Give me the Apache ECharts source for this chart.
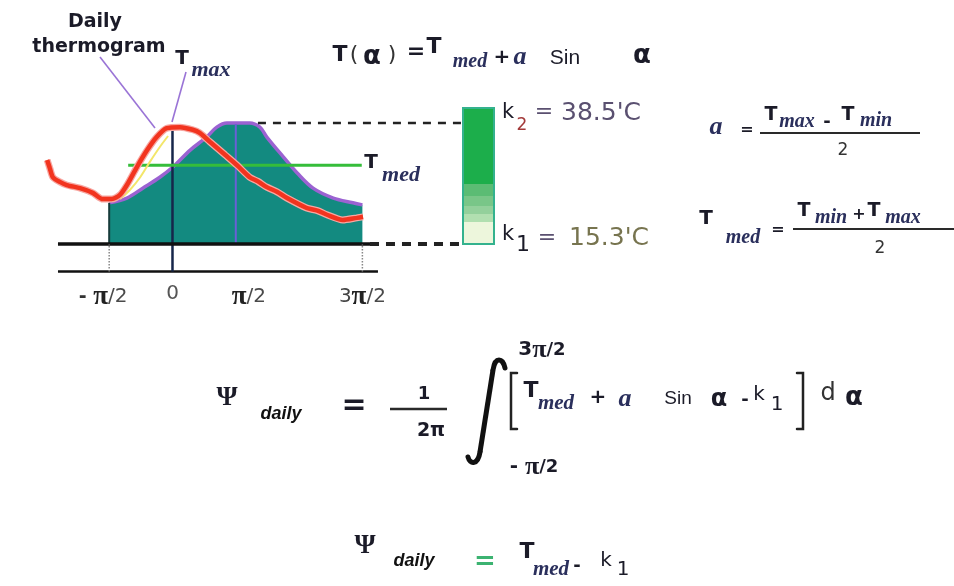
<!DOCTYPE html>
<html>
<head>
<meta charset="utf-8">
<script src="https://cdn.jsdelivr.net/npm/echarts@6/dist/echarts.min.js"></script>
<style>
  html, body { margin: 0; padding: 0; background: #ffffff; }
  #chart { width: 954px; height: 586px; }
</style>
</head>
<body>
<div id="chart"></div>
<script>
// Angle α is measured in units of π/2; temperatures in °C.
const alphaTicks = [-1, 0, 1, 3];
const alphaTickLabels = ['-π/2', '0', 'π/2', '3π/2'];

const k1 = 15.3;
const k2 = 38.5;
const tMed = 30.4;

// Sinusoidal model T(α) bounding the integrated (teal) area
const modelCurve = [
  [-1.00, 23.2], [-0.72, 24.1], [-0.47, 26.0], [-0.20, 28.1], [0.01, 30.1],
  [0.28, 33.3], [0.54, 35.8], [0.70, 37.7], [0.86, 38.5], [1.22, 38.5],
  [1.38, 37.7], [1.49, 35.8], [1.75, 32.0], [1.97, 28.9], [2.22, 26.0],
  [2.54, 24.1], [2.85, 23.2], [3.00, 22.8]
];

// Measured daily thermogram
const thermogram = [
  [-1.98, 31.4], [-1.94, 29.9], [-1.89, 28.1], [-1.78, 27.2], [-1.67, 26.6],
  [-1.46, 26.0], [-1.26, 25.1], [-1.10, 23.9], [-0.96, 23.9], [-0.83, 24.7],
  [-0.72, 26.6], [-0.56, 30.1], [-0.40, 33.3], [-0.25, 35.8], [-0.09, 37.5],
  [0.12, 37.7], [0.32, 37.2], [0.43, 36.6], [0.59, 34.9], [0.83, 32.4],
  [1.02, 30.4], [1.22, 28.1], [1.35, 27.3], [1.49, 26.2], [1.65, 25.3],
  [1.81, 24.1], [2.12, 22.2], [2.29, 21.7], [2.44, 20.9], [2.69, 19.9],
  [2.91, 20.3], [3.01, 20.5]
];

// Pale trace running inside the rising limb of the thermogram
const innerTrace = [
  [-0.83, 23.9], [-0.67, 25.7], [-0.51, 28.1], [-0.36, 31.0], [-0.20, 33.9], [-0.07, 36.0]
];

// Reference lines (α range, temperature)
const tMaxAlpha = 0;
const tMaxValue = 37.7;
const halfPiTop = 38.3;
const modelStart = modelCurve[0];
const medRange = [-0.70, 2.99];
const k2DashFrom = 1.35;
const baselineEnd = 3.12;
const scaleEdge = 4.57;
const axisRange = [-1.809, 3.246];

const X_MIN = -2.093, X_MAX = 4.700;
const Y_MIN = 10, Y_MAX = 43;

function seg(points, color, width, extra) {
  return Object.assign({
    type: 'line', data: points, showSymbol: false, symbol: 'none', clip: false,
    silent: true, animation: false,
    lineStyle: { color: color, width: width, cap: 'butt' }
  }, extra || {});
}

const labelRich = {
  m: { fontFamily: 'DejaVu Sans', fontWeight: 'bold', fontSize: 19, color: '#333' },
  p: { fontFamily: 'Liberation Serif', fontWeight: 'bold', fontSize: 27, color: '#222' },
  d: { fontFamily: 'DejaVu Sans', fontSize: 20, color: '#4a4a4a' },
  n: { fontFamily: 'DejaVu Sans', fontSize: 20, color: '#444' },
  z: { fontFamily: 'DejaVu Sans', fontSize: 20, color: '#555' },
  s: { width: 26 },
  t: { width: 12 }
};

function tickLabel(value) {
  const i = alphaTicks.indexOf(Math.round(value));
  const s = i >= 0 ? alphaTickLabels[i] : '';
  if (s === '0') return '{z|0}';
  const m = s.match(/^(-?)(\d*)π\/(\d)$/);
  if (!m) return s;
  let out = '';
  if (m[1]) out += '{m|- }';
  if (m[2]) out += '{n|' + m[2] + '}';
  out += '{p|π}{d|/' + m[3] + '}';
  if (s === 'π/2') out = '{s|}' + out;
  if (m[1]) out += '{t|}';
  return out;
}

// ---- text helpers for the formulas ----
const SANS = 'DejaVu Sans';
const ARIAL = 'Liberation Sans';
const SERIF = 'Liberation Serif';
const INK = '#1b1b28';
const SUB = '#2a2f5c';

function txt(x, y, s, size, o) {
  o = o || {};
  const style = {
    text: s, fontSize: size, fontFamily: o.family || SANS,
    fontWeight: o.weight || 'normal', fontStyle: o.style || 'normal',
    fill: o.color || INK, align: 'center', verticalAlign: 'middle',
    textAlign: 'center', textVerticalAlign: 'middle'
  };
  if (o.rich) style.rich = o.rich;
  return { type: 'text', x: x, y: y, z: 100, silent: true, style: style };
}
const B = { weight: 'bold' };
const IT = { family: SERIF, weight: 'bold', style: 'italic', color: SUB };
function line(x1, y1, x2, y2, color, w) {
  return { type: 'line', z: 100, silent: true, shape: { x1, y1, x2, y2 }, style: { stroke: color, lineWidth: w } };
}
function poly(points, color, w) {
  return { type: 'polyline', z: 100, silent: true, shape: { points: points },
    style: { stroke: color, lineWidth: w, fill: null, lineCap: 'round' } };
}
function curve(x1, y1, cx1, cy1, cx2, cy2, x2, y2, color, w) {
  return { type: 'bezierCurve', z: 100, silent: true,
    shape: { x1, y1, x2, y2, cpx1: cx1, cpy1: cy1, cpx2: cx2, cpy2: cy2 },
    style: { stroke: color, lineWidth: w, fill: null, lineCap: 'round' } };
}
const limitRich = {
  n: { fontFamily: SANS, fontWeight: 'bold', fontSize: 20, color: '#222' },
  p: { fontFamily: SERIF, fontWeight: 'bold', fontSize: 26, color: '#222' },
  d: { fontFamily: SANS, fontWeight: 'bold', fontSize: 18, color: '#333' }
};

const scaleBands = [
  { y: 109, h: 75, c: '#1cae4b' },
  { y: 184, h: 12, c: '#5bbc74' },
  { y: 196, h: 10, c: '#79c688' },
  { y: 206, h: 8, c: '#93d09b' },
  { y: 214, h: 8, c: '#b1dfb0' },
  { y: 222, h: 21, c: '#edf6dc' }
];

const graphics = [
  // annotations on the plot
  txt(95, 22, 'Daily', 19, B),
  txt(99, 47, 'thermogram', 19, B),
  line(100, 57, 155, 128, '#9a74d6', 1.6),
  line(186, 72, 172, 122, '#9a74d6', 1.6),
  txt(182, 59, 'T', 20, B),
  txt(211, 70, 'max', 22, IT),
  txt(371, 163, 'T', 20, B),
  txt(401, 175, 'med', 22, IT),

  // T(α) = Tmed + a Sin α
  txt(340, 55, 'T', 22, B),
  txt(354, 55, '(', 22, { color: '#333' }),
  txt(372, 57, 'α', 26, B),
  txt(392, 55, ')', 22, { color: '#333' }),
  txt(416, 52, '=', 22, B),
  txt(434, 47, 'T', 22, B),
  txt(470, 62, 'med', 20, IT),
  txt(502, 58, '+', 20, B),
  txt(520, 57, 'a', 26, IT),
  txt(565, 58, 'Sin', 21, { family: ARIAL }),
  txt(642, 56, 'α', 26, B),

  // scale bar labels
  txt(508, 113, 'k', 21),
  txt(522, 126, '2', 17, { color: '#a33a3a' }),
  txt(544, 112, '=', 22, { color: '#5a5070' }),
  txt(601, 113, "38.5'C", 25, { color: '#5a5070' }),
  txt(508, 235, 'k', 21),
  txt(523, 245, '1', 22),
  txt(547, 238, '=', 22, { color: '#5a5070' }),
  txt(609, 238, "15.3'C", 25, { color: '#77744f' }),

  // a = (Tmax - Tmin)/2
  txt(716, 127, 'a', 26, IT),
  txt(747, 130, '=', 16, B),
  txt(771, 115, 'T', 19, B),
  txt(797, 122, 'max', 20, IT),
  txt(827, 122, '-', 18, B),
  txt(848, 115, 'T', 19, B),
  txt(876, 121, 'min', 20, IT),
  line(760, 133, 920, 133, '#2a2a2a', 2),
  txt(843, 151, '2', 17, { color: '#333' }),

  // Tmed = (Tmin + Tmax)/2
  txt(706, 219, 'T', 20, B),
  txt(743, 238, 'med', 20, IT),
  txt(778, 230, '=', 16, B),
  txt(804, 211, 'T', 19, B),
  txt(831, 218, 'min', 20, IT),
  txt(859, 215, '+', 16, B),
  txt(874, 211, 'T', 19, B),
  txt(903, 218, 'max', 20, IT),
  line(793, 229, 954, 229, '#2a2a2a', 2),
  txt(880, 249, '2', 17, { color: '#333' }),

  // Ψdaily = 1/(2π) ∫ [Tmed + a Sin α - k1] dα
  txt(227, 398, 'Ψ', 27, { family: SERIF, weight: 'bold' }),
  txt(281, 414, 'daily', 18, { family: ARIAL, weight: 'bold', style: 'italic', color: '#111' }),
  txt(354, 406, '=', 30, B),
  txt(424, 394, '1', 18, B),
  line(390, 409, 447, 409, '#2a2a2a', 2.5),
  txt(431, 431, '2π', 19, B),
  curve(505, 368, 503, 358, 495, 356, 493, 370, '#111', 5),
  line(493, 370, 480, 452, '#111', 5),
  curve(480, 452, 478, 465, 470, 465, 468, 457, '#111', 5),
  txt(542, 350, '{n|3}{p|π}{d|/2}', 20, { rich: limitRich }),
  txt(534, 467, '{n|- }{p|π}{d|/2}', 20, { rich: limitRich }),
  poly([[517, 373], [511, 373], [511, 429], [517, 429]], '#222', 2.5),
  txt(531, 391, 'T', 22, B),
  txt(556, 404, 'med', 21, IT),
  txt(598, 398, '+', 20, B),
  txt(625, 399, 'a', 26, IT),
  txt(678, 399, 'Sin', 19, { family: ARIAL }),
  txt(719, 400, 'α', 24, B),
  txt(745, 400, '-', 18, B),
  txt(759, 395, 'k', 20),
  txt(777, 405, '1', 20),
  poly([[797, 373], [803, 373], [803, 429], [797, 429]], '#222', 2.5),
  txt(828, 394, 'd', 24, { color: '#333' }),
  txt(854, 398, 'α', 26, B),

  // Ψdaily = Tmed - k1
  txt(365, 546, 'Ψ', 27, { family: SERIF, weight: 'bold' }),
  txt(414, 561, 'daily', 18, { family: ARIAL, weight: 'bold', style: 'italic', color: '#111' }),
  txt(485, 562, '=', 26, { weight: 'bold', color: '#3cb371' }),
  txt(527, 552, 'T', 22, B),
  txt(551, 570, 'med', 21, IT),
  txt(577, 566, '-', 18, B),
  txt(606, 561, 'k', 20),
  txt(623, 570, '1', 20)
];

// temperature scale bar
scaleBands.forEach(function (b) {
  graphics.push({ type: 'rect', z: 90, silent: true, shape: { x: 464, y: b.y, width: 29, height: b.h }, style: { fill: b.c } });
});
graphics.push({ type: 'rect', z: 91, silent: true, shape: { x: 463, y: 108, width: 31, height: 136 }, style: { fill: null, stroke: '#34b28e', lineWidth: 2 } });

const option = {
  animation: false,
  backgroundColor: '#ffffff',
  grid: { left: 40, right: 484, top: 99.5, bottom: 314.4, containLabel: false, outerBoundsMode: 'none' },
  xAxis: {
    type: 'value', min: X_MIN, max: X_MAX,
    splitLine: { show: false },
    axisTick: { show: false },
    axisLine: { show: false, onZero: false },
    axisLabel: {
      show: true, margin: 12, customValues: alphaTicks,
      formatter: tickLabel, rich: labelRich
    }
  },
  yAxis: { type: 'value', min: Y_MIN, max: Y_MAX, show: false, splitLine: { show: false } },
  series: [
    // integrated area under T(α) above k1
    seg(modelCurve, '#9b62d2', 3.5, {
      smooth: 0.35, z: 2,
      areaStyle: { color: '#138a80', opacity: 1, origin: k1 }
    }),
    seg([[modelStart[0], k1], modelStart], '#173b3a', 2, { z: 3 }),
    seg([[1, k1], [1, halfPiTop]], '#6a5fd6', 2, { z: 3 }),
    seg([[axisRange[0], Y_MIN], [axisRange[1], Y_MIN]], '#111111', 2.5, { z: 4 }),
    seg([[tMaxAlpha, Y_MIN], [tMaxAlpha, tMaxValue]], '#16264a', 2.5, { z: 4 }),
    seg([[axisRange[0], k1], [baselineEnd, k1]], '#111111', 3.5, { z: 5 }),
    seg([[baselineEnd, k1], [scaleEdge, k1]], '#222222', 4, { z: 5, lineStyle: { color: '#222', width: 4, type: [9, 7] } }),
    seg([[k2DashFrom, k2], [scaleEdge, k2]], '#222222', 2.5, { z: 5, lineStyle: { color: '#222', width: 2.5, type: [8, 7] } }),
    seg([[-1, Y_MIN], [-1, k1]], '#888', 1.5, { z: 5, lineStyle: { color: '#888', width: 1.5, type: 'dotted' } }),
    seg([[3, Y_MIN], [3, k1]], '#888', 1.5, { z: 5, lineStyle: { color: '#888', width: 1.5, type: 'dotted' } }),
    seg([[medRange[0], tMed], [medRange[1], tMed]], '#35bd3a', 3, { z: 6 }),
    seg(innerTrace, '#f3e66a', 2, { smooth: 0.3, z: 6 }),
    seg(thermogram, '#f7a7a2', 7, { smooth: 0.25, z: 7 }),
    seg(thermogram, '#f2341f', 4.5, { smooth: 0.25, z: 8 })
  ],
  graphic: { elements: graphics }
};

const chart = echarts.init(document.getElementById('chart'), null, { renderer: 'canvas' });
chart.setOption(option);
</script>
</body>
</html>
